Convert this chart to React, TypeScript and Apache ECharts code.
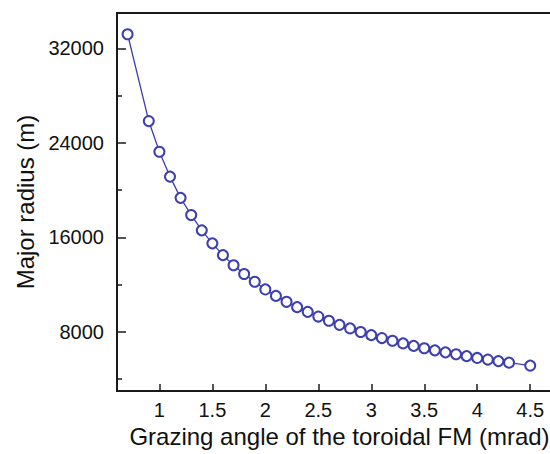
import React, { useEffect, useRef } from "react";
import * as echarts from "echarts";

const angles = [0.7, 0.9, 1.0, 1.1, 1.2, 1.3, 1.4, 1.5, 1.6, 1.7, 1.8, 1.9, 2.0, 2.1, 2.2, 2.3, 2.4, 2.5, 2.6, 2.7, 2.8, 2.9, 3.0, 3.1, 3.2, 3.3, 3.4, 3.5, 3.6, 3.7, 3.8, 3.9, 4.0, 4.1, 4.2, 4.3, 4.5];
const radii = [33200, 25850, 23250, 21150, 19350, 17900, 16600, 15500, 14500, 13650, 12900, 12250, 11600, 11050, 10550, 10100, 9700, 9300, 8950, 8600, 8300, 8000, 7730, 7480, 7250, 7030, 6820, 6620, 6440, 6270, 6110, 5950, 5800, 5660, 5530, 5400, 5150];
const xTicks = [1, 1.5, 2, 2.5, 3, 3.5, 4, 4.5];
const yMajorTicks = [8000, 16000, 24000, 32000];
const yMinorTicks = [4000, 12000, 20000, 28000];

const FONT = "'Liberation Sans', Arial, sans-serif";
const AXIS = "#1a1a1a";
const BLUE = "#3d3eb0";

export default function App() {
  const ref = useRef<HTMLDivElement>(null);
  useEffect(() => {
    if (!ref.current) return;
    const chart = echarts.init(ref.current, null, { renderer: "svg" });
    chart.setOption({
      animation: false,
      backgroundColor: "#ffffff",
      grid: {
        left: 117,
        top: 13,
        right: -12,
        bottom: 63,
        containLabel: false,
        outerBoundsMode: "none",
        show: true,
        borderColor: AXIS,
        borderWidth: 2,
        backgroundColor: "transparent",
      },
      xAxis: {
        type: "value",
        min: 0.6,
        max: 4.8,
        name: "Grazing angle of the toroidal FM (mrad)",
        nameLocation: "middle",
        nameGap: 29,
        nameTextStyle: { fontFamily: FONT, fontSize: 24, color: "#111" },
        axisLine: { show: true, lineStyle: { color: AXIS, width: 2 } },
        axisTick: { show: true, inside: true, length: 7, customValues: xTicks, lineStyle: { color: AXIS, width: 1.5 } },
        axisLabel: { customValues: xTicks, fontFamily: FONT, fontSize: 20, color: "#111", margin: 9, formatter: (v: number) => String(v) },
        splitLine: { show: false },
      },
      yAxis: [
        {
          type: "value",
          min: 3000,
          max: 35000,
          name: "Major radius (m)",
          nameLocation: "middle",
          nameGap: 80,
          nameTextStyle: { fontFamily: FONT, fontSize: 24, color: "#111" },
          axisLine: { show: true, lineStyle: { color: AXIS, width: 2 } },
          axisTick: { show: true, inside: true, length: 9, customValues: yMajorTicks, lineStyle: { color: AXIS, width: 1.5 } },
          axisLabel: { customValues: yMajorTicks, fontFamily: FONT, fontSize: 20, color: "#111", margin: 13, formatter: (v: number) => String(v) },
          splitLine: { show: false },
        },
        {
          type: "value",
          min: 3000,
          max: 35000,
          position: "left",
          axisLine: { show: false },
          axisTick: { show: true, inside: true, length: 5, customValues: yMinorTicks, lineStyle: { color: AXIS, width: 1.5 } },
          axisLabel: { show: false },
          splitLine: { show: false },
        },
      ],
      series: [
        {
          type: "line",
          yAxisIndex: 0,
          data: angles.map((a, i) => [a, radii[i]]),
          symbol: "emptyCircle",
          symbolSize: 10,
          lineStyle: { color: BLUE, width: 1.3 },
          itemStyle: { color: BLUE, borderColor: BLUE, borderWidth: 1.3 },
        },
      ],
    });
    return () => chart.dispose();
  }, []);
  return <div ref={ref} style={{ width: 550, height: 454, position: "absolute", left: 0, top: 0 }} />;
}
